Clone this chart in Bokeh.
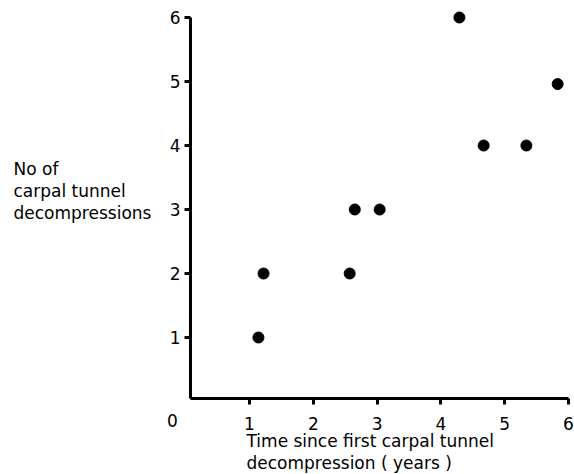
from bokeh.plotting import figure
from bokeh.models import Range1d, FixedTicker
from bokeh.core.properties import value
from bokeh.embed import file_html
from bokeh.resources import INLINE

# Data
years = [1.14, 1.22, 2.57, 2.65, 3.04, 4.29, 4.67, 5.34, 5.83]
decompressions = [1, 2, 2, 3, 3, 6, 4, 4, 4.96]
x_ticks = [1, 2, 3, 4, 5, 6]
y_ticks = [1, 2, 3, 4, 5, 6]
y_label_lines = ["No of", "carpal tunnel", "decompressions"]
x_label_lines = ["Time since first carpal tunnel", "decompression  ( years )"]
origin_label = ["0"]

FONT = "DejaVu Sans"
FS = "17px"

p = figure(width=574, height=474, output_backend="svg", toolbar_location=None,
           x_range=Range1d(-2.903, 6.094), y_range=Range1d(-1.1406, 6.2656),
           min_border_left=0, min_border_right=0, min_border_top=0, min_border_bottom=0)
p.outline_line_color = None
p.xgrid.grid_line_color = None
p.ygrid.grid_line_color = None
p.background_fill_color = "white"
p.border_fill_color = "white"

for ax, ticks in ((p.xaxis[0], x_ticks), (p.yaxis[0], y_ticks)):
    ax.ticker = FixedTicker(ticks=ticks)
    ax.axis_line_width = 3
    ax.axis_line_color = "black"
    ax.major_tick_line_width = 3
    ax.major_tick_line_color = "black"
    ax.major_tick_out = 6
    ax.major_tick_in = 0
    ax.minor_tick_line_color = None
    ax.major_label_text_font = FONT
    ax.major_label_text_font_size = FS
    ax.major_label_text_color = "black"

p.yaxis[0].fixed_location = 0.075
p.xaxis[0].fixed_location = 0.047
p.xaxis[0].bounds = (0.075, 6.0)
p.yaxis[0].bounds = (0.047, 6.0)
p.xaxis[0].major_label_standoff = 13
p.yaxis[0].major_label_standoff = 4

p.scatter(years, decompressions, size=11, color="black", marker="circle")

p.text(x=[-2.699] * 3, y=[3.64, 3.29, 2.94], text=y_label_lines,
       text_font=value(FONT), text_font_size=FS, text_color="black",
       text_align="left", text_baseline="alphabetic")
p.text(x=[0.953] * 2, y=[-0.61, -0.955], text=x_label_lines,
       text_font=value(FONT), text_font_size=FS, text_color="black",
       text_align="left", text_baseline="alphabetic")
p.text(x=[-0.207], y=[-0.30], text=origin_label,
       text_font=value(FONT), text_font_size=FS, text_color="black",
       text_align="center", text_baseline="middle")

open("out.html", "w").write(file_html(p, INLINE))
